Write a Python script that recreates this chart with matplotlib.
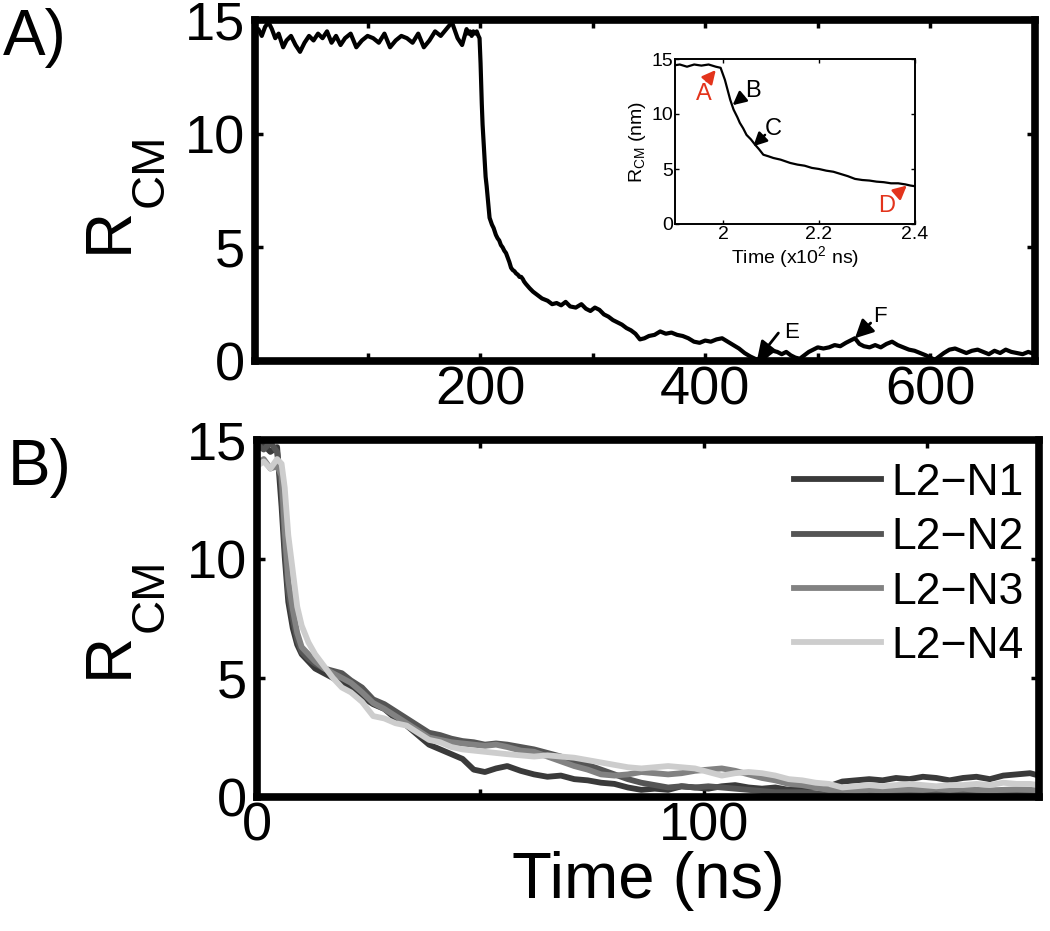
import numpy as np
import matplotlib
matplotlib.use('Agg')
import matplotlib.pyplot as plt

plt.rcParams['font.family'] = ['Liberation Sans', 'DejaVu Sans']
plt.rcParams['mathtext.default'] = 'regular'

# Panel A: single trajectory (time in ns, R_CM in nm)
tA_flat = [0, 3, 6, 9, 12, 15, 18, 21, 25, 28, 32, 36, 40, 44, 48, 52, 56, 60, 64, 68,
           72, 76, 80, 85, 90, 95, 100, 105, 110, 115, 120, 125, 130, 135, 140, 145, 150,
           155, 160, 165, 170, 175, 180, 184]
rA_flat = [14.4, 14.6, 14.3, 14.7, 14.9, 14.6, 14.2, 14.4, 13.8, 14.1, 14.3, 13.9, 13.6,
           14.0, 14.3, 14.1, 14.4, 14.2, 14.5, 14.0, 14.3, 13.9, 14.2, 14.4, 13.8, 14.1,
           14.3, 14.2, 14.0, 14.4, 13.8, 14.1, 14.3, 14.2, 14.0, 14.4, 13.8, 14.1, 14.5,
           14.3, 14.6, 14.9, 14.2, 13.9]
tA_drop = [188, 189.5, 191, 192.5, 194, 195.5, 197, 198.5, 199.5, 200.4, 201.5, 202.2,
           203, 203.5, 204.2, 204.9, 205.8, 206.7, 207.5, 208.4, 209.5, 210.5, 212, 213,
           214, 215.5, 217, 218.5, 220, 221.5, 223, 224.5, 226, 227.5, 229, 230.5, 232,
           233.5, 235, 236.5, 238, 239, 240.5]
rA_drop = [14.6, 14.4, 14.5, 14.3, 14.5, 14.4, 14.5, 14.3, 14.2, 13.1, 11.3, 10.4, 9.7,
           9.2, 8.7, 8.1, 7.7, 7.2, 6.8, 6.3, 6.15, 6.0, 5.85, 5.7, 5.55, 5.4, 5.3, 5.1,
           5.0, 4.85, 4.75, 4.55, 4.35, 4.1, 4.0, 3.95, 3.85, 3.8, 3.7, 3.7, 3.6, 3.5, 3.4]
tA_tail = [244, 247, 251, 255, 260, 264, 268, 272, 276, 280, 285, 290, 294, 298, 302, 306,
           310, 314, 318, 322, 326, 330, 334, 338, 342, 346, 350, 355, 360, 365, 370, 375,
           380, 385, 390, 395, 400, 405, 410, 415, 420, 425, 430, 435, 440, 445, 448, 452,
           456, 460, 464, 468, 472, 476, 480, 484, 488, 492, 496, 500, 505, 510, 515, 520,
           525, 529, 533, 537, 541, 546, 551, 556, 561, 566, 571, 576, 581, 586, 591, 596,
           600, 604, 608, 612, 617, 622, 627, 632, 637, 642, 647, 652, 657, 662, 667, 672,
           677, 682, 687, 693]
rA_tail = [3.2, 3.05, 2.9, 2.75, 2.65, 2.5, 2.55, 2.45, 2.6, 2.4,
           2.35, 2.5, 2.3, 2.2, 2.35, 2.25, 2.05, 1.95, 1.8, 1.7,
           1.6, 1.45, 1.35, 1.2, 0.95, 1.0, 1.1, 1.15, 1.3, 1.2,
           1.25, 1.15, 1.1, 1.0, 0.85, 0.8, 0.9, 0.85, 0.95, 1.0,
           0.85, 0.7, 0.55, 0.35, 0.2, 0.08, 0.05, 0.12, 0.3, 0.45,
           0.4, 0.3, 0.4, 0.25, 0.15, 0.1, 0.25, 0.4, 0.5, 0.6,
           0.55, 0.6, 0.7, 0.65, 0.8, 0.9, 1.0, 0.75, 0.65, 0.6,
           0.7, 0.6, 0.75, 0.85, 0.7, 0.6, 0.5, 0.45, 0.35, 0.25,
           0.15, 0.05, 0.2, 0.35, 0.5, 0.55, 0.45, 0.35, 0.45, 0.5,
           0.4, 0.3, 0.45, 0.35, 0.5, 0.4, 0.35, 0.3, 0.4, 0.3]

# Panel B: four trajectories
tB = [0, 1.5, 3, 4.5, 5.5, 6.2, 7, 8, 9, 10, 11.5, 13, 15, 17, 19, 21, 23.5, 26, 28.5, 31,
      33.5, 36, 38.5, 41, 43.5, 46, 48.5, 51, 53.5, 56, 59, 62, 65, 68, 71, 74, 77, 80, 83, 86,
      89, 92, 95, 98, 101, 104, 107, 110, 113, 116, 119, 122, 125, 128, 131, 134, 137, 140,
      143, 146, 149, 152, 155, 158, 161, 164, 167, 170, 173, 175]
rN1 = [14.6, 14.8, 14.5, 14.7, 12.2, 10.1, 8.2, 7.1, 6.4, 6.0,
       5.7, 5.4, 5.2, 5.0, 4.8, 4.6, 4.2, 3.9, 3.7, 3.3,
       3.0, 2.6, 2.2, 2.0, 1.8, 1.6, 1.15, 1.05, 1.2, 1.3,
       1.1, 0.95, 0.85, 0.9, 0.75, 0.7, 0.6, 0.55, 0.4, 0.3,
       0.35, 0.3, 0.45, 0.4, 0.35, 0.45, 0.5, 0.4, 0.35, 0.4,
       0.3, 0.35, 0.4, 0.45, 0.65, 0.7, 0.75, 0.7, 0.8, 0.75,
       0.85, 0.8, 0.7, 0.8, 0.85, 0.75, 0.9, 0.95, 1.0, 0.9]
rN2 = [14.8, 14.6, 14.9, 14.5, 13.0, 10.6, 8.6, 7.5, 6.6, 6.1,
       5.8, 5.6, 5.4, 5.3, 5.2, 4.9, 4.6, 4.1, 3.9, 3.6,
       3.3, 3.0, 2.7, 2.6, 2.45, 2.35, 2.3, 2.2, 2.25, 2.2,
       2.1, 2.0, 1.85, 1.7, 1.5, 1.35, 1.15, 0.95, 0.75, 0.6,
       0.5, 0.4, 0.45, 0.4, 0.45, 0.4, 0.35, 0.3, 0.25, 0.2,
       0.2, 0.2, 0.15, 0.1, 0.1, 0.12, 0.1, 0.08, 0.1, 0.12,
       0.1, 0.15, 0.12, 0.15, 0.1, 0.12, 0.15, 0.12, 0.15, 0.15]
rN3 = [14.0, 14.2, 13.8, 13.9, 13.5, 11.2, 9.1, 7.9, 6.9, 6.3,
       6.0, 5.7, 5.4, 5.2, 5.0, 4.8, 4.4, 3.95, 3.7, 3.4,
       3.1, 2.8, 2.5, 2.4, 2.3, 2.25, 2.2, 2.15, 2.2, 2.1,
       1.95, 1.9, 1.7, 1.5, 1.3, 1.15, 0.95, 0.9, 0.95, 1.05,
       1.0, 0.95, 1.0, 1.1, 1.15, 1.2, 1.1, 0.95, 0.8, 0.7,
       0.55, 0.5, 0.4, 0.3, 0.3, 0.25, 0.3, 0.28, 0.3, 0.32,
       0.3, 0.35, 0.3, 0.35, 0.3, 0.28, 0.3, 0.32, 0.3, 0.28]
rN4 = [13.9, 14.1, 13.8, 14.2, 14.0, 13.0, 11.0, 9.5, 8.0, 7.2,
       6.5, 6.0, 5.5, 5.0, 4.6, 4.4, 4.0, 3.4, 3.3, 3.1,
       3.0, 2.7, 2.4, 2.3, 2.1, 2.0, 1.95, 1.9, 1.85, 1.8,
       1.75, 1.7, 1.75, 1.7, 1.65, 1.55, 1.45, 1.35, 1.25, 1.2,
       1.25, 1.3, 1.25, 1.2, 1.05, 0.9, 1.0, 1.05, 1.0, 0.9,
       0.75, 0.7, 0.6, 0.55, 0.4, 0.45, 0.5, 0.45, 0.5, 0.55,
       0.5, 0.45, 0.5, 0.5, 0.55, 0.5, 0.6, 0.55, 0.55, 0.5]
labelsB = ['L2\u2212N1', 'L2\u2212N2', 'L2\u2212N3', 'L2\u2212N4']
colorsB = ['#3a3a3a', '#555555', '#828282', '#cdcdcd']

# annotation points (time, R_CM)
main_marks = {'E': ((446, 0.04), (465, 1.23), (477, 1.27)),
              'F': ((533, 1.0), (547, 1.67), (555, 1.97))}
inset_marks = {'A': ((1.985, 14.0), (1.966, 13.0), (1.96, 11.8), '#e3341c'),
               'B': ((2.02, 10.8), (2.042, 11.6), (2.063, 12.1), 'k'),
               'C': ((2.063, 7.06), (2.0875, 8.1), (2.105, 8.6), 'k'),
               'D': ((2.383, 3.5), (2.362, 2.7), (2.341, 1.6), '#e3341c')}

tA = np.concatenate([tA_flat, tA_drop, tA_tail])
rA = np.concatenate([rA_flat, rA_drop, rA_tail])

W, H = 1050, 931
fig = plt.figure(figsize=(W / 100, H / 100), dpi=100)


def style_main(ax):
    for s in ax.spines.values():
        s.set_linewidth(5.5)
    ax.tick_params(direction='in', length=6, width=2.5, top=True, right=True,
                   labelsize=39)
    ax.tick_params(axis='y', pad=7)
    ax.tick_params(axis='x', pad=3)


# ---- panel A
axA = fig.add_axes([255 / W, 1 - 361 / H, 780 / W, 341 / H])
axA.plot(tA, rA, color='k', lw=3)
axA.set_xlim(0, 693)
axA.set_ylim(0, 15)
axA.set_xticks([100, 200, 300, 400, 500, 600])
axA.set_xticklabels(['', '200', '', '400', '', '600'])
axA.set_yticks([0, 5, 10, 15])
style_main(axA)
for name, (tip, tail, lab) in main_marks.items():
    axA.annotate('', xy=tip, xytext=tail,
                 arrowprops=dict(arrowstyle='-|>,head_length=0.5,head_width=0.25',
                                 color='k', lw=2, shrinkA=0, shrinkB=0,
                                 mutation_scale=22))
    axA.text(lab[0], lab[1], name, fontsize=16, ha='center', va='center')

# ---- inset
axI = fig.add_axes([675 / W, 1 - 224 / H, 240 / W, 165 / H])
axI.plot(tA / 100, rA, color='k', lw=1.6)
axI.set_xlim(1.9, 2.4)
axI.set_ylim(0, 15)
axI.set_xticks([2.0, 2.2, 2.4])
axI.set_xticklabels(['2', '2.2', '2.4'])
axI.set_yticks([0, 5, 10, 15])
for s in axI.spines.values():
    s.set_linewidth(1.4)
axI.tick_params(direction='in', length=3, width=1, top=True, right=True,
                labelsize=14, pad=1.5)
axI.set_xlabel('Time (x10$^2$ ns)', fontsize=14, labelpad=1)
axI.set_ylabel('R$_{CM}$ (nm)', fontsize=14, labelpad=2)
for name, (tip, tail, lab, col) in inset_marks.items():
    axI.annotate('', xy=tip, xytext=tail,
                 arrowprops=dict(arrowstyle='-|>,head_length=0.5,head_width=0.25',
                                 color=col, lw=1.8, shrinkA=0, shrinkB=0,
                                 mutation_scale=16))
    axI.text(lab[0], lab[1], name, fontsize=17, color=col, ha='center', va='center')

# ---- panel B
axB = fig.add_axes([257 / W, 1 - 797 / H, 782 / W, 357 / H])
for r, c, lab in zip([rN1, rN2, rN3, rN4], colorsB, labelsB):
    axB.plot(tB, r, color=c, lw=4.2, label=lab)
axB.set_xlim(0, 175)
axB.set_ylim(0, 15)
axB.set_xticks([0, 50, 100, 150])
axB.set_xticklabels(['0', '', '100', ''])
axB.set_yticks([0, 5, 10, 15])
style_main(axB)
axB.set_xlabel('Time (ns)', fontsize=47, labelpad=0)
axB.legend(loc='upper left', bbox_to_anchor=(794 / W, 1 - 463 / H),
           bbox_transform=fig.transFigure, frameon=False, fontsize=32,
           handlelength=1.95, handletextpad=0.25, labelspacing=0.3,
           borderpad=0, borderaxespad=0)

# ---- y labels and panel letters
for y_r, y_cm in [(253, 207), (678, 632)]:
    fig.text(127 / W, 1 - y_r / H, 'R', fontsize=46, rotation=90,
             rotation_mode='anchor', ha='left', va='baseline')
    fig.text(163 / W, 1 - y_cm / H, 'CM', fontsize=34, rotation=90,
             rotation_mode='anchor', ha='left', va='baseline')
fig.text(3 / W, 1 - 55 / H, 'A)', fontsize=46, ha='left', va='baseline')
fig.text(8 / W, 1 - 485 / H, 'B)', fontsize=46, ha='left', va='baseline')

fig.savefig('out.png', dpi=100)
